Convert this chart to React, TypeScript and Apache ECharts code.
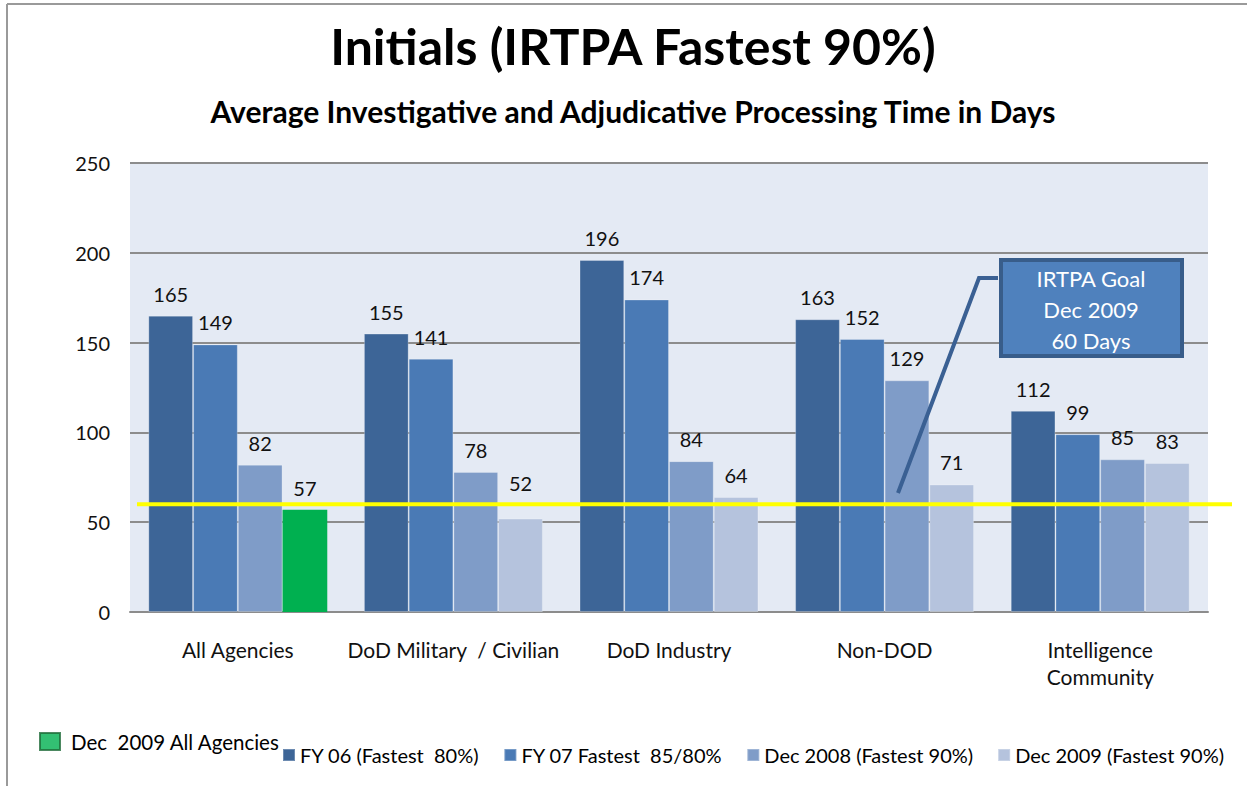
import React, { useEffect, useRef } from "react";
import * as echarts from "echarts";

const categories = ["All Agencies", "DoD Military  / Civilian", "DoD Industry", "Non-DOD", "Intelligence\nCommunity"];
const seriesNames = ["FY 06 (Fastest  80%)", "FY 07 Fastest  85/80%", "Dec 2008 (Fastest 90%)", "Dec 2009 (Fastest 90%)"];
const fy06 = [165, 155, 196, 163, 112];
const fy07 = [149, 141, 174, 152, 99];
const dec2008 = [82, 78, 84, 129, 85];
const dec2009 = [57, 52, 64, 71, 83];
const greenLegend = "Dec  2009 All Agencies";
const goal = 60;
const goalLines = ["IRTPA Goal", "Dec 2009", "60 Days"];
const yTicks = { min: 0, max: 250, interval: 50 };

const colors = ["#3d6597", "#4a7ab5", "#7f9cc8", "#b5c3dd"];
const green = "#00b050";
const FONT = "Lato, 'Open Sans', sans-serif";

export default function App() {
  const ref = useRef<HTMLDivElement>(null);
  useEffect(() => {
    if (!ref.current) return;
    const chart = echarts.init(ref.current, undefined, { renderer: "svg" });
    const values = [fy06, fy07, dec2008, dec2009];
    const barSeries = values.map((vals, i) => ({
      name: seriesNames[i],
      type: "bar",
      barGap: "0%",
      barCategoryGap: "17%",
      itemStyle: { color: colors[i], borderColor: "rgba(255,255,255,0.25)", borderWidth: 1 },
      label: {
        show: true,
        position: "top",
        distance: 12,
        color: "#111",
        fontSize: 20,
        fontFamily: FONT,
      },
      data: vals.map((v, j) => {
        const item: any = { value: v };
        if (i === 3 && j === 0) item.itemStyle = { color: green, borderWidth: 0 };
        // labels that would sit on the goal line are lifted above it
        if (v < goal && goal - v > 5) item.label = { distance: 26 };
        return item;
      }),
    }));
    chart.setOption({
      animation: false,
      backgroundColor: "#ffffff",
      title: [
        {
          text: "Initials (IRTPA Fastest 90%)",
          left: 628,
          textAlign: "center",
          top: 16,
          textStyle: { fontSize: 50, fontWeight: "bold", color: "#000", fontFamily: FONT },
        },
        {
          text: "Average Investigative and Adjudicative Processing Time in Days",
          left: 628,
          textAlign: "center",
          top: 91,
          textStyle: { fontSize: 30, fontWeight: "bold", color: "#000", fontFamily: FONT },
        },
      ],
      legend: [
        {
          data: [greenLegend],
          left: 34,
          top: 726,
          itemWidth: 20,
          itemHeight: 17,
          itemGap: 10,
          icon: "rect",
          textStyle: { fontSize: 20.5, color: "#000", fontFamily: FONT, padding: [0, 0, 0, 6] },
          selectedMode: false,
        },
        {
          data: seriesNames,
          left: 277,
          top: 740,
          itemWidth: 12,
          itemHeight: 12,
          itemGap: 24,
          icon: "rect",
          textStyle: { fontSize: 20, color: "#000", fontFamily: FONT },
          selectedMode: false,
        },
      ],
      grid: { left: 130, right: 39, top: 163, bottom: 174 },
      xAxis: {
        type: "category",
        data: categories,
        axisLine: { lineStyle: { color: "#8c8c8c", width: 2 } },
        axisTick: { show: false },
        axisLabel: { interval: 0, color: "#111", fontSize: 21, fontFamily: FONT, margin: 24, lineHeight: 27 },
      },
      yAxis: {
        type: "value",
        min: yTicks.min,
        max: yTicks.max,
        interval: yTicks.interval,
        axisLine: { show: false },
        axisTick: { show: false },
        axisLabel: { color: "#111", fontSize: 20, fontFamily: FONT, margin: 20 },
        splitLine: { lineStyle: { color: "#8c8c8c", width: 2 } },
        splitArea: { show: true, areaStyle: { color: ["#e4eaf4", "#e4eaf4"] } },
      },
      series: [
        ...barSeries,
        { name: greenLegend, type: "scatter", data: [], itemStyle: { color: green, borderColor: "#1f6b3a", borderWidth: 1 } },
      ],
    });
    const gy = chart.convertToPixel({ yAxisIndex: 0 }, goal) as number;
    chart.setOption({
      graphic: [
        { type: "line", shape: { x1: 7, y1: 4, x2: 1247, y2: 4 }, style: { stroke: "#9a9a9a", lineWidth: 2 } },
        { type: "line", shape: { x1: 7, y1: 4, x2: 7, y2: 786 }, style: { stroke: "#9a9a9a", lineWidth: 2 } },
        { type: "line", z: 10, shape: { x1: 137, y1: gy, x2: 1232, y2: gy }, style: { stroke: "#ffff00", lineWidth: 4 } },
        {
          type: "polyline",
          z: 11,
          shape: { points: [[998, 278], [979, 278], [898, 493]] },
          style: { stroke: "#3a6093", lineWidth: 4, fill: null },
        },
        {
          type: "rect",
          z: 12,
          shape: { x: 1001, y: 260, width: 181, height: 96 },
          style: { fill: "#4f81bd", stroke: "#385d8a", lineWidth: 4 },
        },
        {
          type: "text",
          z: 13,
          style: {
            text: goalLines.join("\n"),
            x: 1091,
            y: 309,
            textAlign: "center",
            textVerticalAlign: "middle",
            fill: "#ffffff",
            fontSize: 22,
            lineHeight: 31,
            fontFamily: FONT,
          },
        },
      ],
    });
    return () => chart.dispose();
  }, []);
  return <div ref={ref} style={{ position: "fixed", left: 0, top: 0, width: 1247, height: 786 }} />;
}
